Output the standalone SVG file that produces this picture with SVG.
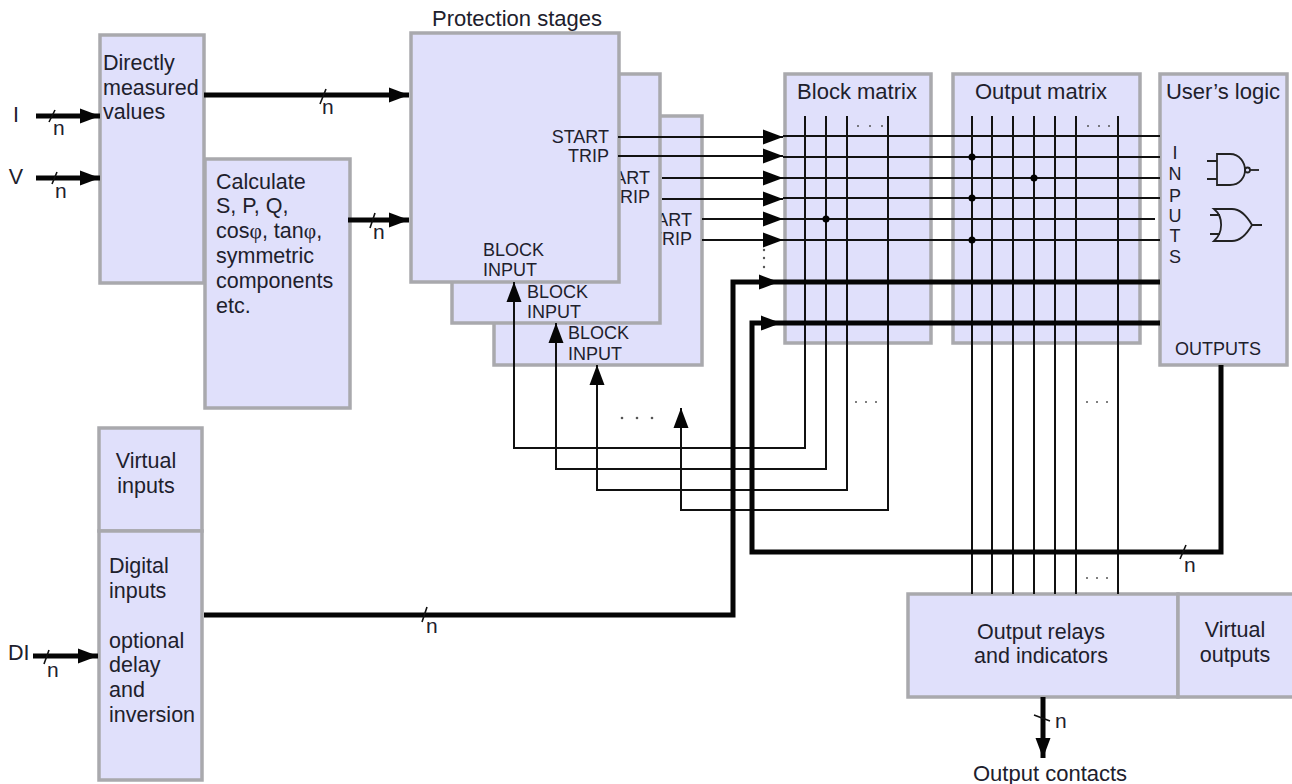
<svg xmlns="http://www.w3.org/2000/svg" width="1292" height="784" viewBox="0 0 1292 784">
<style>
.b{fill:#e0e0fb;stroke:#a9a9ad;stroke-width:3.5}
text{font-family:"Liberation Sans",Arial,sans-serif;font-size:21.5px;fill:#20202c}
.s{font-size:18px}
.l{font-size:22px}
.n{font-size:21px}
.sym{font-family:"Liberation Serif",serif}
.m{text-anchor:middle}
.e{text-anchor:end}
.t{fill:none;stroke:#111;stroke-width:2}
.k{fill:none;stroke:#050505;stroke-width:5}
.k2{fill:none;stroke:#050505;stroke-width:5}
.tk{fill:none;stroke:#111;stroke-width:1.6}
.g{fill:none;stroke:#222;stroke-width:1.8}
.d{fill:#555}
</style>
<defs>
<marker id="a" markerUnits="userSpaceOnUse" markerWidth="22" markerHeight="18" refX="20" refY="9" orient="auto"><path d="M0 1.500L20 9L0 16.500Z" fill="#050505"/></marker>
</defs>
<rect width="1292" height="784" fill="#fff"/>

<g id="calculate"><rect class="b" x="205" y="159" width="145" height="249"/>
<text x="216" y="189">Calculate</text><text x="216" y="213">S, P, Q,</text><text x="216" y="238">cos<tspan class="sym">φ</tspan>, tan<tspan class="sym">φ</tspan>,</text><text x="216" y="263">symmetric</text><text x="216" y="288">components</text><text x="216" y="313">etc.</text></g>
<g id="direct"><rect class="b" x="100" y="35" width="104" height="248"/>
<text x="103" y="70">Directly</text><text x="103" y="95">measured</text><text x="103" y="119">values</text></g>
<g id="virtual-inputs"><rect class="b" x="99" y="428" width="103" height="103"/>
<text class="m" x="146" y="468">Virtual</text><text class="m" x="146" y="493">inputs</text></g>
<g id="digital-inputs"><rect class="b" x="99" y="531" width="103" height="249"/>
<text x="109" y="573">Digital</text><text x="109" y="598">inputs</text><text x="109" y="648">optional</text><text x="109" y="672">delay</text><text x="109" y="697">and</text><text x="109" y="722">inversion</text></g>

<text id="protection-title" class="l" x="432" y="26">Protection stages</text>
<g id="stage3"><rect class="b" x="494" y="116" width="208" height="249"/>
<text class="s e" x="692" y="226">START</text><text class="s e" x="692" y="245">TRIP</text><text class="s" x="568" y="339">BLOCK</text><text class="s" x="568" y="360">INPUT</text></g>
<g id="stage2"><rect class="b" x="452" y="74" width="208" height="249"/>
<text class="s e" x="650" y="184">START</text><text class="s e" x="650" y="203">TRIP</text><text class="s" x="527" y="298">BLOCK</text><text class="s" x="527" y="318">INPUT</text></g>
<g id="stage1"><rect class="b" x="411" y="33" width="208" height="249"/>
<text class="s e" x="609" y="143">START</text><text class="s e" x="609" y="162">TRIP</text><text class="s" x="483" y="256">BLOCK</text><text class="s" x="483" y="276">INPUT</text></g>

<g id="block-matrix"><rect class="b" x="785" y="74" width="146" height="269"/>
<text class="m l" x="857" y="99">Block matrix</text></g>
<g id="output-matrix"><rect class="b" x="953" y="74" width="187" height="269"/>
<text class="m l" x="1041" y="99">Output matrix</text></g>
<g id="users-logic"><rect class="b" x="1160" y="74" width="127" height="291"/>
<text class="m l" x="1223" y="99">User’s logic</text>
<text class="s m" x="1175" y="159">I</text><text class="s m" x="1175" y="180">N</text><text class="s m" x="1175" y="202">P</text><text class="s m" x="1175" y="222">U</text><text class="s m" x="1175" y="242">T</text><text class="s m" x="1175" y="263">S</text>
<text class="s" x="1175" y="355">OUTPUTS</text>
<path class="g" d="M1217 154H1230C1240 154 1245 163 1245 170C1245 177 1240 185 1230 185H1217ZM1207 161H1217M1207 179H1217"/>
<circle class="g" cx="1247.500" cy="170" r="2.500"/><path class="g" d="M1250 170H1259"/>
<path class="g" d="M1214 209H1232C1241 209 1248 218 1252 225C1248 232 1241 241 1232 241H1214C1223 233 1224 217 1214 209ZM1210 215H1220M1210 234H1220M1252 225H1262"/>
</g>
<g id="output-relays"><rect class="b" x="908" y="594" width="270" height="103"/>
<text class="m" x="1041" y="639">Output relays</text><text class="m" x="1041" y="663">and indicators</text></g>
<g id="virtual-outputs"><rect class="b" x="1178" y="594" width="116" height="103"/>
<text class="m" x="1235" y="637">Virtual</text><text class="m" x="1235" y="662">outputs</text></g>

<g id="connectors">
<path class="k2" d="M36 116H100" marker-end="url(#a)"/>
<path class="k2" d="M36 178H100" marker-end="url(#a)"/>
<path class="k2" d="M204 95H409" marker-end="url(#a)"/>
<path class="k2" d="M348 220H409" marker-end="url(#a)"/>
<path class="k2" d="M33 656H98" marker-end="url(#a)"/>
<path class="t" d="M618 137H783" marker-end="url(#a)"/><path class="t" d="M618 156H783" marker-end="url(#a)"/>
<path class="t" d="M662 178H783" marker-end="url(#a)"/><path class="t" d="M662 199H783" marker-end="url(#a)"/>
<path class="t" d="M702 219H783" marker-end="url(#a)"/><path class="t" d="M702 240H783" marker-end="url(#a)"/>
<path class="t" d="M783 136H1160M783 157H1160M783 178H1160M783 198H1160M783 219H1155M783 240H1160"/>
<path class="t" d="M805 116V448H514V302"/><path class="t" d="M514 305V282" marker-end="url(#a)"/>
<path class="t" d="M826 116V469H556V344"/><path class="t" d="M556 346V323" marker-end="url(#a)"/>
<path class="t" d="M847 116V490H597V385"/><path class="t" d="M597 388V365" marker-end="url(#a)"/>
<path class="t" d="M888 116V510H681V428"/><path class="t" d="M681 431V408" marker-end="url(#a)"/>
<path class="t" d="M972 116V594M992 116V594M1013 116V594M1034 116V594M1055 116V594M1076 116V594M1118 116V594"/>
<path class="k" d="M204 615H733V282H779" marker-end="url(#a)"/>
<path class="k" d="M779 282H1160"/>
<path class="k" d="M1221 365V552H752V323H781" marker-end="url(#a)"/>
<path class="k" d="M781 323H1160"/>
<path class="k2" d="M1043 697V758" marker-end="url(#a)"/>
<circle cx="826" cy="219" r="3.500"/><circle cx="972" cy="157" r="3.500"/><circle cx="972" cy="198" r="3.500"/><circle cx="972" cy="240" r="3.500"/><circle cx="1034" cy="178" r="3.500"/>
<path class="tk" d="M49 122L55 110M52 184L57 172M320 104L326 89M370 228L375 213M44 664L49 650M422 622L427 607M1180 559L1186 545M1034 715L1050 721"/>
</g>
<g id="dots" class="d">
<circle cx="858" cy="126" r="1"/><circle cx="870" cy="126" r="1"/><circle cx="882" cy="126" r="1"/>
<circle cx="1088" cy="126" r="1"/><circle cx="1099" cy="126" r="1"/><circle cx="1109" cy="126" r="1"/>
<circle cx="856" cy="402" r="1"/><circle cx="866" cy="402" r="1"/><circle cx="876" cy="402" r="1"/>
<circle cx="1087" cy="402" r="1"/><circle cx="1097" cy="402" r="1"/><circle cx="1107" cy="402" r="1"/>
<circle cx="1087" cy="578" r="1"/><circle cx="1097" cy="578" r="1"/><circle cx="1107" cy="578" r="1"/>
<circle cx="622" cy="418" r="1.300"/><circle cx="637" cy="418" r="1.300"/><circle cx="652" cy="418" r="1.300"/>
<circle cx="764" cy="250" r="1.200"/><circle cx="764" cy="258" r="1.200"/><circle cx="764" cy="267" r="1.200"/>
</g>
<g id="labels">
<text x="16" y="122" class="m">I</text><text x="16" y="184" class="m">V</text><text x="8" y="660">DI</text>
<text x="53" y="135" class="n">n</text><text x="55" y="198" class="n">n</text><text x="322" y="114" class="n">n</text><text x="373" y="239" class="n">n</text><text x="47" y="677" class="n">n</text><text x="426" y="633" class="n">n</text><text x="1184" y="572" class="n">n</text><text x="1055" y="728" class="n">n</text>
<text class="l" x="973" y="781">Output contacts</text>
</g>
</svg>
